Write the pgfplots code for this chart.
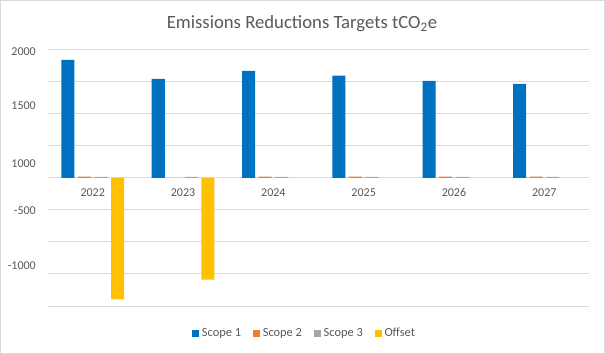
\documentclass[border=0pt]{standalone}
\usepackage{pgfplots}
\pgfplotsset{compat=1.18}
\usepackage{fontspec}
\setmainfont{Carlito}
\definecolor{s1}{HTML}{0070C0}
\definecolor{s2}{HTML}{ED7D31}
\definecolor{s3}{HTML}{A5A5A5}
\definecolor{s4}{HTML}{FFC000}
\definecolor{gridc}{HTML}{D9D9D9}
\definecolor{txt}{HTML}{595959}
\pgfplotsset{sqlegend/.style={legend image code/.code={\fill[##1] (0pt,-2.6pt) rectangle (5.2pt,2.6pt);}}}
\begin{document}
\begin{tikzpicture}[x=0.75pt,y=0.75pt]
\draw[gridc, line width=0.75pt] (1,1) rectangle (604,353);
\node[font=\fontsize{14}{17}\selectfont, text=txt] at (302,330) {Emissions Reductions Targets tCO\textsubscript{2}e};
\begin{axis}[
  at={(36pt,36pt)}, anchor=south west,
  scale only axis, width=405.75pt, height=191.8pt,
  xmin=-0.5, xmax=5.5, ymin=-2000, ymax=2000,
  axis line style={draw=none},
  major tick length=0pt,
  ymajorgrids, major grid style={gridc, line width=0.75pt},
  ytick={-2000,-1500,...,2000}, yticklabels={},
  extra y ticks={1975,1125,216,-516,-1375},
  extra y tick labels={2000,1500,1000,-500,-1000},
  extra y tick style={grid=none, yticklabel style={anchor=east, inner sep=0pt, xshift=-8.6pt}},
  xtick={0,1,2,3,4,5}, xticklabels={2022,2023,2024,2025,2026,2027},
  xticklabel style={anchor=center, inner sep=0pt, yshift=84.75pt},
  ticklabel style={font=\fontsize{9}{11}\selectfont, text=txt},
  ybar=2.625pt, bar width=9.75pt,
  legend columns=-1,
  legend style={draw=none, fill=none, font=\fontsize{9.3}{11}\selectfont, text=txt,
    at={(0.475,-0.107)}, anchor=center,
    /tikz/every even column/.append style={column sep=7pt}},
  clip=false,
]
\addplot[fill=s1, draw=none, sqlegend] coordinates {(0,1844) (1,1547) (2,1672) (3,1599) (4,1516) (5,1469)};
\addplot[fill=s2, draw=none, sqlegend] coordinates {(0,20) (1,0) (2,20) (3,20) (4,20) (5,20)};
\addplot[fill=s3, draw=none, sqlegend] coordinates {(0,18) (1,18) (2,18) (3,18) (4,18) (5,18)};
\addplot[fill=s4, draw=none, sqlegend] coordinates {(0,-1896) (1,-1589)};
\legend{Scope 1, Scope 2, Scope 3, Offset}
\end{axis}
\end{tikzpicture}
\end{document}
